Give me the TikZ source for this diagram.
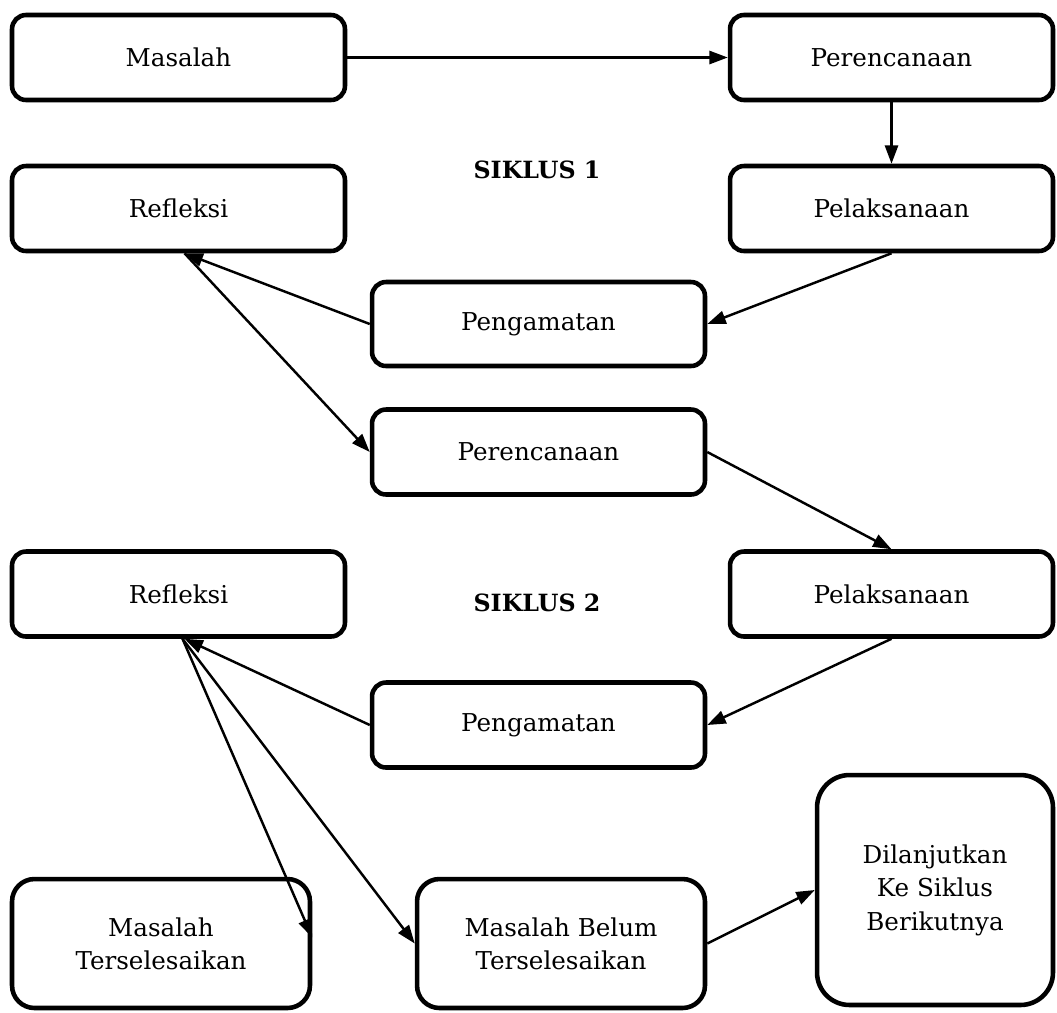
\documentclass[tikz,border=0pt]{standalone}
\usepackage{fontspec}
\setmainfont{DejaVu Serif}
\usepackage{tikz}
\usetikzlibrary{calc,arrows.meta}

\begin{document}
\begin{tikzpicture}[x=0.02cm, y=-0.02cm,
    font=\fontsize{14}{19}\selectfont,
    flowBox/.style={draw, line width=2.6pt, rounded corners=0.28cm, align=center,
        minimum width=6.66cm, minimum height=1.70cm, inner sep=0pt},
    tallBox/.style={flowBox, rounded corners=0.45cm, minimum height=2.58cm},
    flowArrow/.style={line width=1.4pt, -{Triangle[length=10.5pt,width=7.5pt]}}]
        \useasboundingbox (0,0) rectangle (1057,1012);

        % boxes of cycle 1
        \node[flowBox] (masalah) at (178.5,57.5) {Masalah};
        \node[flowBox, minimum width=6.46cm] (plan1) at (891.5,57.5) {Perencanaan};
        \node[flowBox] (refl1) at (178.5,208.5) {Refleksi};
        \node[flowBox, minimum width=6.46cm] (pelak1) at (891.5,208.5) {Pelaksanaan};
        \node[flowBox, minimum height=1.68cm] (amat1) at (538.5,324) {Pengamatan};
        \node[font=\fontsize{13.5}{19}\selectfont\bfseries] (siklus1) at (537,170) {SIKLUS 1};

        % boxes of cycle 2
        \node[flowBox] (plan2) at (538.5,452) {Perencanaan};
        \node[flowBox] (refl2) at (178.5,594) {Refleksi};
        \node[flowBox, minimum width=6.46cm] (pelak2) at (891.5,594) {Pelaksanaan};
        \node[flowBox] (amat2) at (538.5,725) {Pengamatan};
        \node[font=\fontsize{13.5}{19}\selectfont\bfseries] (siklus2) at (537,603) {SIKLUS 2};

        % outcome boxes
        \node[tallBox, minimum width=5.96cm] (selesai) at (161,943.5) {Masalah\\Terselesaikan};
        \node[tallBox, minimum width=5.76cm] (belum) at (561,943.5) {Masalah Belum\\Terselesaikan};
        \node[flowBox, rounded corners=0.65cm, minimum width=4.72cm, minimum height=4.6cm]
            (lanjut) at (935,890) {Dilanjutkan\\Ke Siklus\\Berikutnya};

        % arrows
        \draw[flowArrow] (masalah.east) -- (plan1.west);
        \draw[flowArrow] (plan1.south) -- (pelak1.north);
        \draw[flowArrow] (pelak1.south) -- (amat1.east);
        \draw[flowArrow] (amat1.west) -- ($(refl1.south)+(6,0)$);
        \draw[flowArrow] ($(refl1.south)+(6,0)$) -- (plan2.west);
        \draw[flowArrow] (plan2.east) -- (pelak2.north);
        \draw[flowArrow] (pelak2.south) -- (amat2.east);
        \draw[flowArrow] (amat2.west) -- ($(refl2.south)+(6,0)$);
        \draw[flowArrow] ($(refl2.south)+(4,0)$) -- ($(selesai.east)+(0,-6)$);
        \draw[flowArrow] ($(refl2.south)+(4,0)$) -- (belum.west);
        \draw[flowArrow] (belum.east) -- (lanjut.west);
    \end{tikzpicture}
\end{document}
